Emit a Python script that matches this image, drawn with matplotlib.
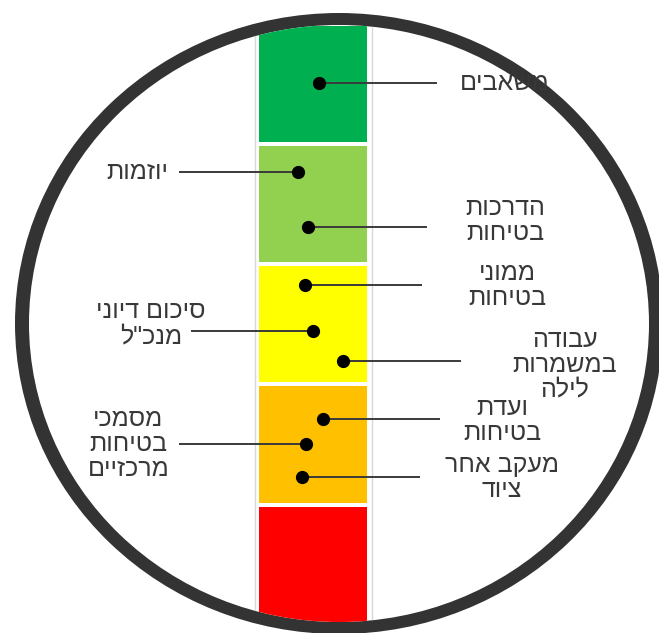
import matplotlib
matplotlib.use("Agg")
import matplotlib.pyplot as plt
from matplotlib.patches import Ellipse
from matplotlib import font_manager
from matplotlib.ft2font import FT2Font

# pick the first installed family that really contains Hebrew glyphs
chosen = 'DejaVu Sans'
for fam in ['Liberation Sans', 'Open Sans', 'Roboto', 'Noto Sans', 'Lato', 'Inter']:
    try:
        path = font_manager.findfont(font_manager.FontProperties(family=fam),
                                     fallback_to_default=False)
        f = FT2Font(path)
        if f.get_char_index(ord('ש')) and f.get_char_index(ord('ם')):
            chosen = fam
            break
    except Exception:
        pass
plt.rcParams['font.family'] = [chosen, 'DejaVu Sans']

# ---- data ----
band_colors = ['#FF0000', '#FFC000', '#FFFF00', '#92D050', '#00B050']  # bottom -> top
band_index = [0, 1, 2, 3, 4]

labels = ['משאבים', 'יוזמות', 'הדרכות\nבטיחות', 'ממוני\nבטיחות',
          'סיכום דיוני\nמנכ"ל', 'עבודה\nבמשמרות\nלילה', 'ועדת\nבטיחות',
          'מסמכי\nבטיחות\nמרכזיים', 'מעקב אחר\nציוד']
item_level = [4.52, 3.78, 3.33, 2.84, 2.46, 2.21, 1.73, 1.52, 1.25]
item_offset = [0.06, -0.14, -0.05, -0.07, 0.0, 0.28, 0.09, -0.06, -0.10]

# ---- layout (label placement) ----
leader_end = [1.15, -1.24, 1.06, 1.01, -1.13, 1.37, 1.18, -1.24, 0.99]
label_x = [1.36, -1.34, 1.78, 1.80, -1.50, 2.33, 1.75, -1.71, 1.75]
label_dy = [0.0, 0.0, 0.05, 0.0, 0.06, -0.03, -0.01, 0.0, -0.01]
label_ha = ['left', 'right', 'center', 'center', 'center', 'center', 'center', 'center', 'center']


def visual(s):
    # matplotlib has no bidi support: reverse each line for right-to-left display
    return '\n'.join(line[::-1] for line in s.split('\n'))


W, H = 659, 633
fig = plt.figure(figsize=(W / 100, H / 100), dpi=100)
ax = fig.add_axes([0, 0, 1, 1])
ax.set_xlim(-2.898, 3.204)
ax.set_ylim(-0.05, 5.214)
ax.axis('off')

cx, cy = 339 / W, 1 - 323.5 / H
outer = Ellipse((cx, cy), 648 / W, 621 / H, transform=ax.transAxes,
                facecolor='#333333', edgecolor='none', zorder=0)
inner = Ellipse((cx, cy), 620 / W, 597 / H, transform=ax.transAxes,
                facecolor='white', edgecolor='none', zorder=0.5)
ax.add_patch(outer)
ax.add_patch(inner)

artists = []
# column frame
for xf in (-0.537, 0.546):
    artists += ax.plot([xf, xf], [-0.1, 5.3], color='#d8d8d8', lw=1.0, zorder=1)

bars = ax.bar([0] * len(band_index), [0.966] * len(band_index),
              bottom=[i + 0.034 for i in band_index], width=1.0,
              color=band_colors, zorder=2)
artists += list(bars)

for lab, lv, off, le, lx, dy, ha in zip(labels, item_level, item_offset,
                                        leader_end, label_x, label_dy, label_ha):
    artists += ax.plot([off, le], [lv, lv], color='#3a3a3a', lw=1.4, zorder=3,
                       solid_capstyle='butt')
    artists += ax.plot([off], [lv], 'o', color='black', ms=8.5, zorder=4)
    t = ax.text(lx, lv + dy, visual(lab), ha=ha, va='center', multialignment='center',
                fontsize=18, color='#383838', linespacing=1.05, zorder=5)
    artists.append(t)

for a in artists:
    a.set_clip_path(inner)

fig.savefig('out.png', dpi=100, facecolor='white')
